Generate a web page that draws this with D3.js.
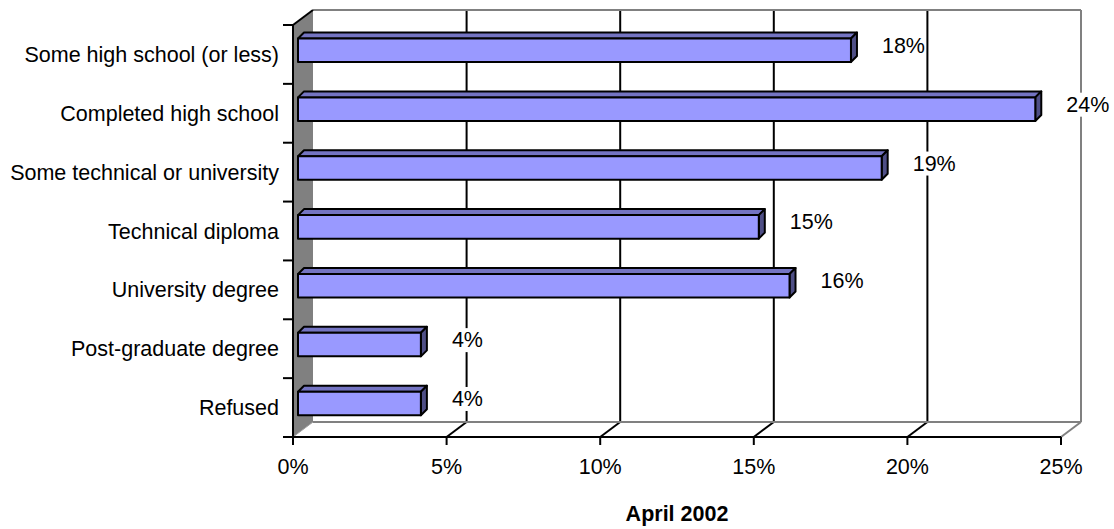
<!DOCTYPE html>
<html>
<head>
<meta charset="utf-8">
<script src="https://cdn.jsdelivr.net/npm/d3@7"></script>
<style>
	body { margin: 0; background: #fff; }
	text { font-family: Arial, "Liberation Sans", sans-serif; }
</style>
</head>
<body>
<div class="chart"></div>
<script>
var categories = [
	"Some high school (or less)",
	"Completed high school",
	"Some technical or university",
	"Technical diploma",
	"University degree",
	"Post-graduate degree",
	"Refused"
];
var values = [18, 24, 19, 15, 16, 4, 4];
var valueLabels = ["18%", "24%", "19%", "15%", "16%", "4%", "4%"];
var ticks = [0, 5, 10, 15, 20, 25];
var tickLabels = ["0%", "5%", "10%", "15%", "20%", "25%"];
var axisTitle = "April 2002";

var width = 1114, height = 529;
var fontSize = 21.5;
//depth of the 3d box and of each bar
var depth = {x: 20, y: 15};
var barDepth = {x: 6, y: 6};
var barShift = 5;

function makeSvg(width, height, div_class) {
	return d3.select("." + div_class).append("svg")
		.attr("width", width)
		.attr("height", height);
}

function line(g, x1, y1, x2, y2, color, w) {
	return g.append("line")
		.attr("x1", x1).attr("y1", y1)
		.attr("x2", x2).attr("y2", y2)
		.attr("stroke", color)
		.attr("stroke-width", w);
}

function poly(g, pts, fill) {
	return g.append("polygon")
		.attr("points", pts.map(function(p){ return p.join(",") }).join(" "))
		.attr("fill", fill)
		.attr("stroke", "#000")
		.attr("stroke-width", 2)
		.attr("stroke-linejoin", "round");
}

var svg = makeSvg(width, height, "chart");

var x = d3.scaleLinear()
	.domain([0, 25])
	.range([293, 1061]);

var y = d3.scaleBand()
	.domain(categories)
	.range([25, 437]);

var x0 = x(0), x1 = x(25), yTop = y.range()[0], yBot = y.range()[1];

//back wall and walls edges
var walls = svg.append("g");
walls.append("rect")
	.attr("x", x0 + depth.x).attr("y", yTop - depth.y)
	.attr("width", x1 - x0).attr("height", yBot - yTop)
	.attr("fill", "#fff");

//gridlines on the back wall
ticks.slice(1, -1).map(function(t) {
	line(walls, x(t) + depth.x, yTop - depth.y, x(t) + depth.x, yBot - depth.y, "#000", 2);
	line(walls, x(t), yBot, x(t) + depth.x, yBot - depth.y, "#000", 2);
});

line(walls, x0 + depth.x, yTop - depth.y, x1 + depth.x, yTop - depth.y, "#808080", 2);
line(walls, x1 + depth.x, yTop - depth.y, x1 + depth.x, yBot - depth.y, "#808080", 2);
line(walls, x0 + depth.x, yBot - depth.y, x1 + depth.x, yBot - depth.y, "#808080", 2);
line(walls, x1, yBot, x1 + depth.x, yBot - depth.y, "#808080", 2);

//left side wall
walls.append("polygon")
	.attr("points", [[x0, yTop], [x0 + depth.x, yTop - depth.y], [x0 + depth.x, yBot - depth.y], [x0, yBot]]
		.map(function(p){ return p.join(",") }).join(" "))
	.attr("fill", "#808080");
line(walls, x0, yTop, x0 + depth.x, yTop - depth.y, "#000", 2);
line(walls, x0, yBot, x0 + depth.x, yBot - depth.y, "#a0a0a0", 1);

//bars
var bars = svg.append("g");
categories.map(function(c, i) {
	var bx0 = x(0) + barShift,
		bx1 = x(values[i]) + barShift,
		by0 = y(c) + y.bandwidth() * 0.23,
		by1 = by0 + y.bandwidth() * 0.4;

	poly(bars, [[bx0, by0], [bx0 + barDepth.x, by0 - barDepth.y], [bx1 + barDepth.x, by0 - barDepth.y], [bx1, by0]], "#7474c2");
	poly(bars, [[bx1, by0], [bx1 + barDepth.x, by0 - barDepth.y], [bx1 + barDepth.x, by1 - barDepth.y], [bx1, by1]], "#4f4f86");
	poly(bars, [[bx0, by0], [bx1, by0], [bx1, by1], [bx0, by1]], "#9999ff");
});

//front axes
var axes = svg.append("g");
line(axes, x0, yTop, x0, yBot, "#000", 2);
line(axes, x0, yBot, x1, yBot, "#000", 2);

categories.concat([null]).map(function(c, i) {
	var ty = c === null ? yBot : y(c);
	line(axes, x0 - 10, ty, x0, ty, "#000", 2);
});

ticks.map(function(t, i) {
	line(axes, x(t), yBot, x(t), yBot + 8, "#000", 2);
	axes.append("text")
		.attr("x", x(t))
		.attr("y", 474)
		.attr("text-anchor", "middle")
		.attr("font-size", fontSize)
		.text(tickLabels[i]);
});

categories.map(function(c) {
	axes.append("text")
		.attr("x", 279)
		.attr("y", y(c) + y.bandwidth() / 2)
		.attr("dy", "0.35em")
		.attr("text-anchor", "end")
		.attr("font-size", fontSize)
		.text(c);
});

//value labels sit on a white box
var labels = svg.append("g");
categories.map(function(c, i) {
	var ly = y(c) + y.bandwidth() * 0.43 - 5;
	var g = labels.append("g");
	var t = g.append("text")
		.attr("x", x(values[i]) + 36)
		.attr("y", ly)
		.attr("dy", "0.35em")
		.attr("font-size", fontSize)
		.text(valueLabels[i]);
	var bb = t.node().getBBox();
	g.insert("rect", ":first-child")
		.attr("x", bb.x).attr("y", bb.y)
		.attr("width", bb.width).attr("height", bb.height)
		.attr("fill", "#fff");
});

svg.append("text")
	.attr("x", (x0 + x1) / 2)
	.attr("y", 521)
	.attr("text-anchor", "middle")
	.attr("font-size", fontSize)
	.attr("font-weight", "bold")
	.text(axisTitle);
</script>
</body>
</html>
